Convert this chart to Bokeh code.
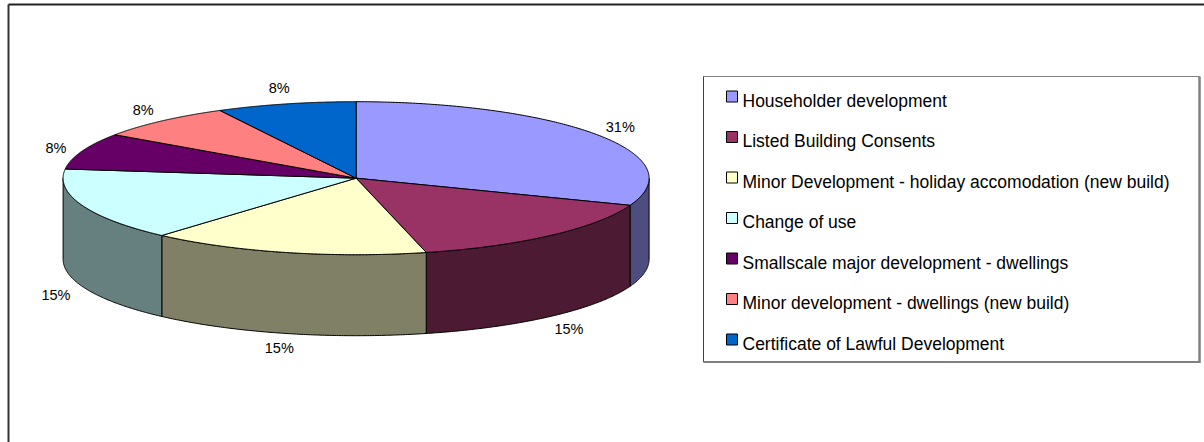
import numpy as np
from bokeh.plotting import figure
from bokeh.models import Range1d, ColumnDataSource
from bokeh.embed import file_html
from bokeh.resources import INLINE
from bokeh.core.properties import value

# ---------------- data ----------------
categories = [
    "Householder development",
    "Listed Building Consents",
    "Minor Development - holiday accomodation (new build)",
    "Change of use",
    "Smallscale major development - dwellings",
    "Minor development - dwellings (new build)",
    "Certificate of Lawful Development",
]
counts = [4, 2, 2, 2, 1, 1, 1]
top_colors = ["#9999FF", "#993366", "#FFFFCC", "#CCFFFF", "#660066", "#FF8080", "#0066CC"]
side_colors = ["#4D4D80", "#4D1A33", "#808066", "#668080", "#330033", "#804040", "#003366"]

# ---------------- geometry (pixels) ----------------
W, H = 1204, 442
CX, CY = 355.6, 177.7      # centre of top ellipse
A, B = 293.0, 76.5         # semi axes
DEPTH = 81.0               # pie thickness
GX, GY_UP, GY_LO = 28.0, 22.0, 10.0   # label gaps
FONT = "Liberation Sans"
LABEL_SIZE = 14.5
LEGEND_SIZE = 17.5

total = float(sum(counts))
fracs = [c / total for c in counts]
pct_labels = ["%d%%" % int(round(100 * f)) for f in fracs]

p = figure(width=W, height=H, x_range=Range1d(0, W), y_range=Range1d(H, 0),
           output_backend="svg", toolbar_location=None, min_border=0,
           background_fill_color="white", border_fill_color="white")
p.axis.visible = False
p.grid.visible = False
p.outline_line_color = None

# outer chart frame (top and left edges visible)
p.line([8, W], [4, 4], line_color="#222222", line_width=2)
p.line([8, 8], [4, H], line_color="#333333", line_width=2)

# slice angles (degrees), starting at 12 o'clock, clockwise
starts, ends = [], []
ang = 90.0
for f in fracs:
    starts.append(ang)
    ang -= f * 360.0
    ends.append(ang)

def ell(t):
    return CX + A * np.cos(t), CY - B * np.sin(t)

# side walls (front half: -180..0 degrees)
sxs, sys_, scol = [], [], []
for i in range(len(counts)):
    lo = max(ends[i], -180.0)
    hi = min(starts[i], 0.0)
    if hi <= lo:
        continue
    t = np.radians(np.linspace(lo, hi, 120))
    x, y = ell(t)
    xs = np.concatenate([x, x[::-1]])
    ys = np.concatenate([y, (y + DEPTH)[::-1]])
    sxs.append(list(xs)); sys_.append(list(ys)); scol.append(side_colors[i])
p.patches(xs=sxs, ys=sys_, fill_color=scol, line_color="black", line_width=1)

# top faces
txs, tys = [], []
for i in range(len(counts)):
    t = np.radians(np.linspace(starts[i], ends[i], 200))
    x, y = ell(t)
    txs.append([CX] + list(x)); tys.append([CY] + list(y))
p.patches(xs=txs, ys=tys, fill_color=top_colors, line_color="black", line_width=1)

# percent labels
lx, ly = [], []
for i in range(len(counts)):
    m = np.radians((starts[i] + ends[i]) / 2.0)
    c, s = np.cos(m), np.sin(m)
    x = CX + (A + GX) * c
    if s >= 0:
        y = CY - (B + GY_UP) * s
    else:
        y = CY - (B + GY_LO) * s + DEPTH
    lx.append(x); ly.append(y + 0.358 * LABEL_SIZE)
p.text(x=lx, y=ly, text=pct_labels, text_font=value(FONT),
       text_font_size="%gpx" % LABEL_SIZE, text_align="center",
       text_baseline="alphabetic", text_color="black")

# legend box
LL, LR, LT, LB = 703, 1199, 76, 361.5
p.quad(left=[LL], right=[LR], top=[LT], bottom=[LB], fill_color="white",
       line_color="#808080", line_width=1)
p.line([LL, LL], [LT, LB], line_color="#404040", line_width=1)
p.line([LR, LR], [LT, LB + 1], line_color="#808080", line_width=2.5)
p.line([LL, LR], [LB, LB], line_color="#808080", line_width=2)

ROW0, STEP = 100.0, 40.5
base = [ROW0 + STEP * i for i in range(len(categories))]
p.rect(x=[731.5] * len(categories), y=[b - 4 for b in base], width=11, height=11,
       fill_color=top_colors, line_color="black", line_width=1)
p.text(x=[742] * len(categories), y=base, text=categories, text_font=value(FONT),
       text_font_size="%gpx" % LEGEND_SIZE, text_align="left",
       text_baseline="alphabetic", text_color="black")

open("out.html", "w").write(file_html(p, INLINE))
